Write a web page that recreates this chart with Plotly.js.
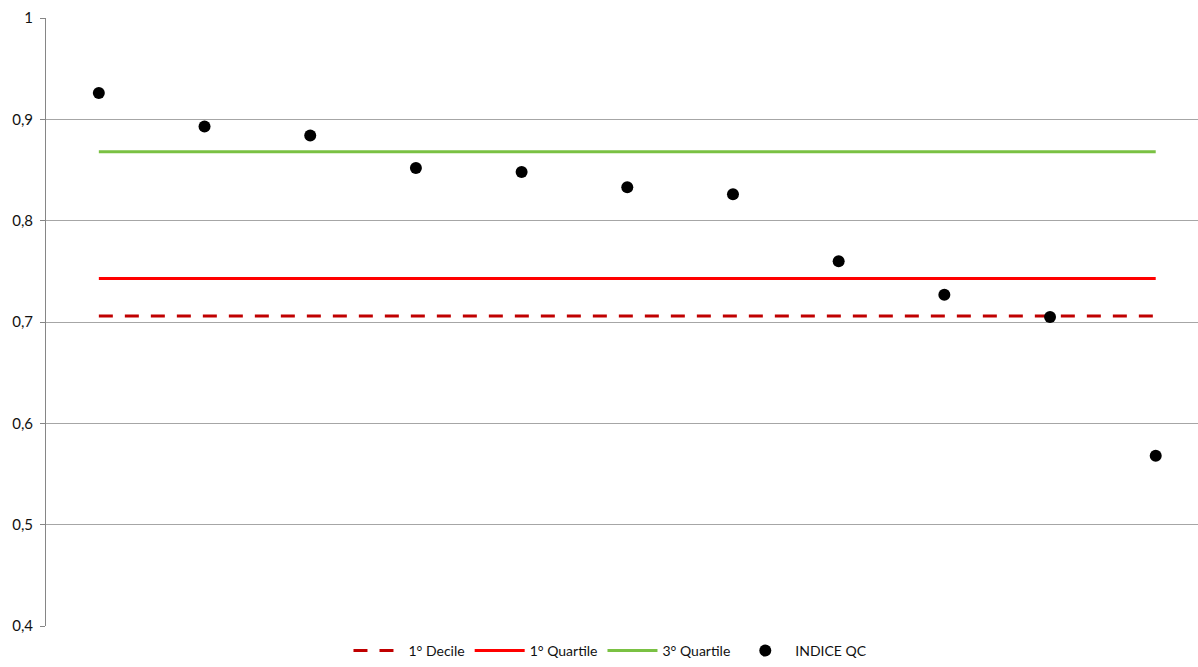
<!DOCTYPE html>
<html>
<head>
<meta charset="utf-8">
<script src="https://cdn.plot.ly/plotly-3.0.1.min.js"></script>
<style>html,body{margin:0;padding:0;background:#fff;}#chart{width:1198px;height:667px;}</style>
</head>
<body>
<div id="chart"></div>
<script>
const categories = [1, 2, 3, 4, 5, 6, 7, 8, 9, 10, 11];
const indiceQC = [0.926, 0.893, 0.884, 0.852, 0.848, 0.833, 0.826, 0.760, 0.727, 0.705, 0.568];
const decile1 = 0.706;
const quartile1 = 0.743;
const quartile3 = 0.868;
const yTickVals = [0.4, 0.5, 0.6, 0.7, 0.8, 0.9, 1];
const yTickText = ["0,4", "0,5", "0,6", "0,7", "0,8", "0,9", "1"];

const flat = v => categories.map(() => v);

const traces = [
  {x: categories, y: flat(decile1), name: "1° Decile", mode: "lines", type: "scatter",
   line: {color: "#C00000", width: 3, dash: "14px,12px"}},
  {x: categories, y: flat(quartile1), name: "1° Quartile", mode: "lines", type: "scatter",
   line: {color: "#FF0000", width: 3}},
  {x: categories, y: flat(quartile3), name: "3° Quartile", mode: "lines", type: "scatter",
   line: {color: "#7AC143", width: 3}},
  {x: categories, y: indiceQC, name: "INDICE QC", mode: "markers", type: "scatter",
   marker: {color: "#000000", size: 12}}
];

const layout = {
  width: 1198, height: 667,
  margin: {l: 46, r: 0, t: 18, b: 41},
  paper_bgcolor: "#fff", plot_bgcolor: "#fff",
  font: {family: "Lato, Open Sans, sans-serif", size: 15, color: "#111"},
  showlegend: true,
  legend: {orientation: "h", x: 0.49, xanchor: "center", yref: "container", y: -0.012, yanchor: "bottom",
           font: {size: 14, color: "#111"}, traceorder: "normal", itemwidth: 50},
  xaxis: {range: [0.5, 11.4], showticklabels: false, showgrid: false, zeroline: false,
          showline: false, ticks: ""},
  yaxis: {range: [0.4, 1], tickvals: yTickVals, ticktext: yTickText, showgrid: true,
          gridcolor: "#A6A6A6", gridwidth: 1, zeroline: false, showline: true,
          linecolor: "#868686", linewidth: 1, ticks: "outside", ticklen: 5,
          tickcolor: "#868686", ticklabelstandoff: 4, tickfont: {size: 15, color: "#111"}}
};

Plotly.newPlot("chart", traces, layout, {displayModeBar: false});
</script>
</body>
</html>
